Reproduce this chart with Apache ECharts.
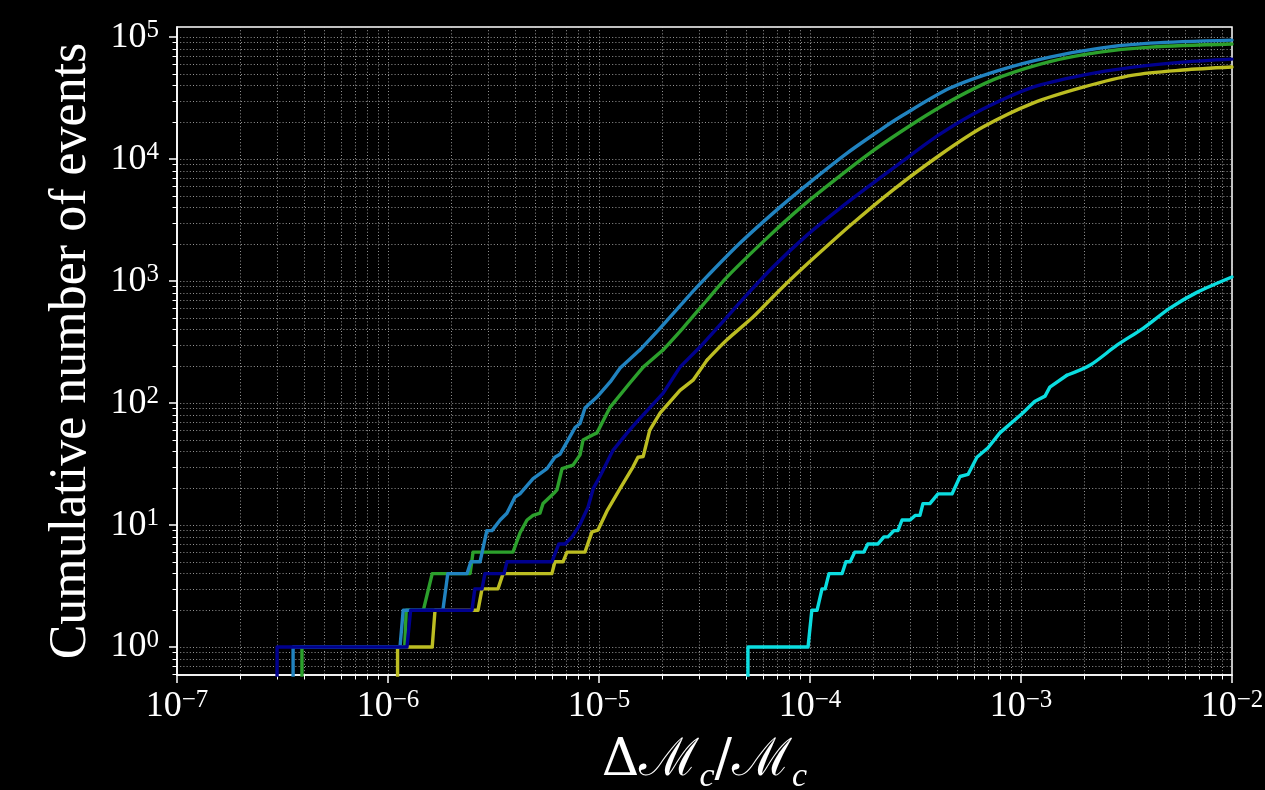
<!DOCTYPE html>
<html>
<head>
<meta charset="utf-8">
<script src="https://cdn.jsdelivr.net/npm/echarts@6/dist/echarts.min.js"></script>
<style>
html,body{margin:0;padding:0;background:#000;}
#chart{width:1265px;height:790px;}
</style>
</head>
<body>
<div id="chart"></div>
<script>
// ---- tick values ----
const xMajorTicks = [1e-7, 1e-6, 1e-5, 1e-4, 1e-3, 1e-2];
const yMajorTicks = [1, 10, 100, 1000, 1e4, 1e5];
const minorMultipliers = [2, 3, 4, 5, 6, 7, 8, 9];

// ---- series data: [ΔMc/Mc, cumulative number of events] ----
const seriesYellow = [
  [1.11e-6, 0.3], [1.11e-6, 1], [1.62e-6, 1], [1.67e-6, 2], [2.67e-6, 2], [2.79e-6, 3],
  [3.32e-6, 3], [3.51e-6, 4], [5.98e-6, 4], [6.18e-6, 5], [6.75e-6, 5], [7.05e-6, 6],
  [8.58e-6, 6], [9.26e-6, 8.8], [9.89e-6, 9.1], [1.09e-5, 13], [1.26e-5, 20], [1.45e-5, 30],
  [1.53e-5, 36], [1.62e-5, 36.5], [1.74e-5, 60], [1.95e-5, 83], [2.42e-5, 127], [2.79e-5, 154],
  [3.25e-5, 225], [4.04e-5, 330], [5.37e-5, 507], [6.46e-5, 700], [8.04e-5, 1019],
  [1.08e-4, 1633], [1.6e-4, 2990], [2.47e-4, 5570], [4.13e-4, 10800], [6.6e-4, 18300],
  [1.14e-3, 28800], [1.97e-3, 38900], [3.4e-3, 48800], [5.86e-3, 53700], [1e-2, 56800]
];
const seriesGreen = [
  [3.91e-7, 0.3], [3.91e-7, 1], [1.2e-6, 1], [1.22e-6, 2], [1.47e-6, 2], [1.62e-6, 4],
  [2.45e-6, 4], [2.53e-6, 6], [3.91e-6, 6], [4.22e-6, 8.6], [4.56e-6, 11], [4.87e-6, 12],
  [5.25e-6, 12.5], [5.43e-6, 15], [6.18e-6, 18.6], [6.32e-6, 19.4], [6.68e-6, 29], [7.53e-6, 31],
  [8.13e-6, 37.6], [8.4e-6, 49.7], [9.37e-6, 55], [9.78e-6, 57], [1.13e-5, 92.7], [1.4e-5, 146],
  [1.62e-5, 197], [2.01e-5, 272], [2.5e-5, 412], [3.25e-5, 699], [4.04e-5, 1078], [6.25e-5, 2250],
  [8.97e-5, 3965], [1.29e-4, 6600], [1.92e-4, 11200], [2.67e-4, 16600], [3.83e-4, 24700],
  [5.55e-4, 35400], [7.94e-4, 47000], [1.37e-3, 63000], [2.37e-3, 75300], [4.09e-3, 82800],
  [1e-2, 87700]
];
const seriesBlue = [
  [3.55e-7, 0.3], [3.55e-7, 1], [1.14e-6, 1], [1.18e-6, 2], [1.82e-6, 2], [1.92e-6, 4],
  [2.37e-6, 4], [2.47e-6, 5], [2.73e-6, 5], [2.94e-6, 9], [3.11e-6, 9], [3.4e-6, 11],
  [3.66e-6, 12.5], [4.0e-6, 17], [4.22e-6, 18], [4.87e-6, 24], [5.67e-6, 29], [6.18e-6, 36],
  [6.53e-6, 38], [7.7e-6, 63], [8.13e-6, 68], [8.58e-6, 91], [9.78e-6, 112], [1.13e-5, 149],
  [1.26e-5, 194], [1.56e-5, 272], [1.95e-5, 412], [2.56e-5, 699], [2.91e-5, 893],
  [4.66e-5, 2050], [7.21e-5, 4040], [1.03e-4, 6730], [1.5e-4, 11200], [2.15e-4, 17300],
  [2.67e-4, 22100], [4.61e-4, 38200], [7.94e-4, 53700], [1.37e-3, 68600], [2.37e-3, 81300],
  [4.09e-3, 89300], [1e-2, 94500]
];
const seriesNavy = [
  [2.98e-7, 0.3], [2.98e-7, 1], [1.23e-6, 1], [1.28e-6, 2], [2.5e-6, 2], [2.58e-6, 3],
  [2.79e-6, 3], [2.88e-6, 4], [3.55e-6, 4], [3.66e-6, 5], [5.98e-6, 5], [6.45e-6, 7],
  [6.9e-6, 7], [7.45e-6, 8], [8.1e-6, 10], [8.87e-6, 14], [9.4e-6, 20], [1.01e-5, 25],
  [1.165e-5, 41], [1.36e-5, 57], [1.51e-5, 70], [2.01e-5, 120], [2.42e-5, 197], [3.01e-5, 288],
  [4.04e-5, 507], [4.76e-5, 699], [6.68e-5, 1303], [9.68e-5, 2380], [1.39e-4, 3965],
  [1.99e-4, 6360], [2.67e-4, 9270], [4.13e-4, 16000], [6.6e-4, 25700], [1.14e-3, 38900],
  [1.97e-3, 48800], [3.4e-3, 56800], [5.86e-3, 62400], [1e-2, 66000]
];
const seriesCyan = [
  [5.08e-5, 0.3], [5.08e-5, 1], [9.79e-5, 1], [1.02e-4, 2], [1.08e-4, 2], [1.14e-4, 3],
  [1.18e-4, 3], [1.23e-4, 4], [1.42e-4, 4], [1.48e-4, 5], [1.55e-4, 5], [1.63e-4, 6],
  [1.8e-4, 6], [1.88e-4, 7], [2.1e-4, 7], [2.24e-4, 8], [2.34e-4, 8], [2.5e-4, 9],
  [2.61e-4, 9], [2.73e-4, 11], [2.98e-4, 11], [3.15e-4, 12], [3.32e-4, 12], [3.43e-4, 15],
  [3.7e-4, 15], [4.04e-4, 18], [4.71e-4, 18], [5.14e-4, 25], [5.61e-4, 26], [6.18e-4, 36],
  [6.98e-4, 43], [7.94e-4, 57], [1.02e-3, 83], [1.16e-3, 103], [1.3e-3, 114], [1.37e-3, 135],
  [1.65e-3, 169], [2.12e-3, 204], [2.85e-3, 298], [3.79e-3, 410], [5.08e-3, 600],
  [6.82e-3, 808], [1e-2, 1080]
];

const seriesList = [
  {name: 'olive', data: seriesYellow, color: '#bcbd22', smoothFrom: 200},
  {name: 'green', data: seriesGreen, color: '#2ca02c', smoothFrom: 200},
  {name: 'blue', data: seriesBlue, color: '#2183c0', smoothFrom: 200},
  {name: 'navy', data: seriesNavy, color: '#00008e', smoothFrom: 200},
  {name: 'cyan', data: seriesCyan, color: '#0bdde0', smoothFrom: 150}
];

function minorsOf(majors) {
  const out = [];
  for (let i = 0; i < majors.length; i++) {
    for (const m of minorMultipliers) out.push(+(majors[i] * m).toPrecision(6));
  }
  return out;
}
const xMinor = minorsOf([1e-8].concat(xMajorTicks)).filter(v => v > 1e-7 && v < 1e-2);
const yMinor = minorsOf([0.1].concat(yMajorTicks)).filter(v => v > 0.59 && v < 1.21e5);

const FONT = 'Liberation Serif';
const gridLine = {show: true, lineStyle: {color: 'rgba(200,200,200,0.75)', width: 1, type: [1, 2.2]}};
const richTick = {
  a: {fontSize: 36, fontFamily: FONT, color: '#fff', lineHeight: 38},
  b: {fontSize: 25, fontFamily: FONT, color: '#fff', lineHeight: 25, verticalAlign: 'top'}
};
function powLabel(v) {
  const e = Math.round(Math.log10(v));
  return '{a|10}{b|' + (e < 0 ? '\u2212' + (-e) : e) + '}';
}

// build line series: stepped lower part drawn straight, upper part smoothed
const builtSeries = [];
seriesList.forEach(s => {
  const k = s.data.findIndex(p => p[1] >= s.smoothFrom);
  const common = {type: 'line', xAxisIndex: 0, yAxisIndex: 0, showSymbol: false, symbol: 'none', clip: true,
    lineStyle: {color: s.color, width: 3.4, cap: 'round', join: 'round'}, itemStyle: {color: s.color}};
  builtSeries.push(Object.assign({name: s.name, data: s.data.slice(0, k + 1)}, common));
  builtSeries.push(Object.assign({name: s.name + '-upper', data: s.data.slice(k), smooth: 0.3}, common));
});

const chart = echarts.init(document.getElementById('chart'), null, {renderer: 'canvas'});
const option = {
  backgroundColor: '#000',
  animation: false,
  grid: {left: 177, right: 33, top: 27, bottom: 115, containLabel: false, outerBoundsMode: 'none',
         show: true, borderColor: '#fff', borderWidth: 1.5, backgroundColor: 'transparent'},
  xAxis: [
    {
      type: 'log', min: 1e-7, max: 1e-2, position: 'bottom',
      name: '{i|\u0394\u2133}{s|c}{i|/\u2133}{s|c}',
      nameLocation: 'middle', nameGap: 56,
      nameTextStyle: {
        color: '#fff',
        rich: {
          i: {fontSize: 52, fontFamily: 'DejaVu Serif', color: '#fff', lineHeight: 60},
          s: {fontSize: 34, fontFamily: FONT, fontStyle: 'italic', color: '#fff', lineHeight: 30, padding: [30, 0, 0, 0]}
        }
      },
      axisLine: {show: true, onZero: false, lineStyle: {color: '#fff', width: 1.6}},
      axisTick: {show: true, customValues: xMajorTicks, length: 8, lineStyle: {color: '#fff', width: 1.5}},
      axisLabel: {show: true, customValues: xMajorTicks, formatter: powLabel, margin: 13, rich: richTick, showMinLabel: true, showMaxLabel: true, hideOverlap: false},
      splitLine: gridLine,
      minorTick: {show: false}, minorSplitLine: {show: false}
    },
    {
      type: 'log', min: 1e-7, max: 1e-2, position: 'bottom',
      axisLine: {show: false},
      axisTick: {show: true, customValues: xMinor, length: 4.5, lineStyle: {color: '#fff', width: 1}},
      axisLabel: {show: false},
      splitLine: gridLine
    }
  ],
  yAxis: [
    {
      type: 'log', min: 0.59, max: 1.21e5, position: 'left',
      name: 'Cumulative number of events',
      nameLocation: 'middle', nameGap: 80,
      nameTextStyle: {color: '#fff', fontSize: 52, fontFamily: FONT},
      axisLine: {show: true, onZero: false, lineStyle: {color: '#fff', width: 1.6}},
      axisTick: {show: true, customValues: yMajorTicks, length: 8, lineStyle: {color: '#fff', width: 1.5}},
      axisLabel: {show: true, customValues: yMajorTicks, formatter: powLabel, margin: 18, rich: richTick},
      splitLine: gridLine,
      minorTick: {show: false}, minorSplitLine: {show: false}
    },
    {
      type: 'log', min: 0.59, max: 1.21e5, position: 'left',
      axisLine: {show: false},
      axisTick: {show: true, customValues: yMinor, length: 4.5, lineStyle: {color: '#fff', width: 1}},
      axisLabel: {show: false},
      splitLine: gridLine
    }
  ],
  series: builtSeries
};
chart.setOption(option);
</script>
</body>
</html>
